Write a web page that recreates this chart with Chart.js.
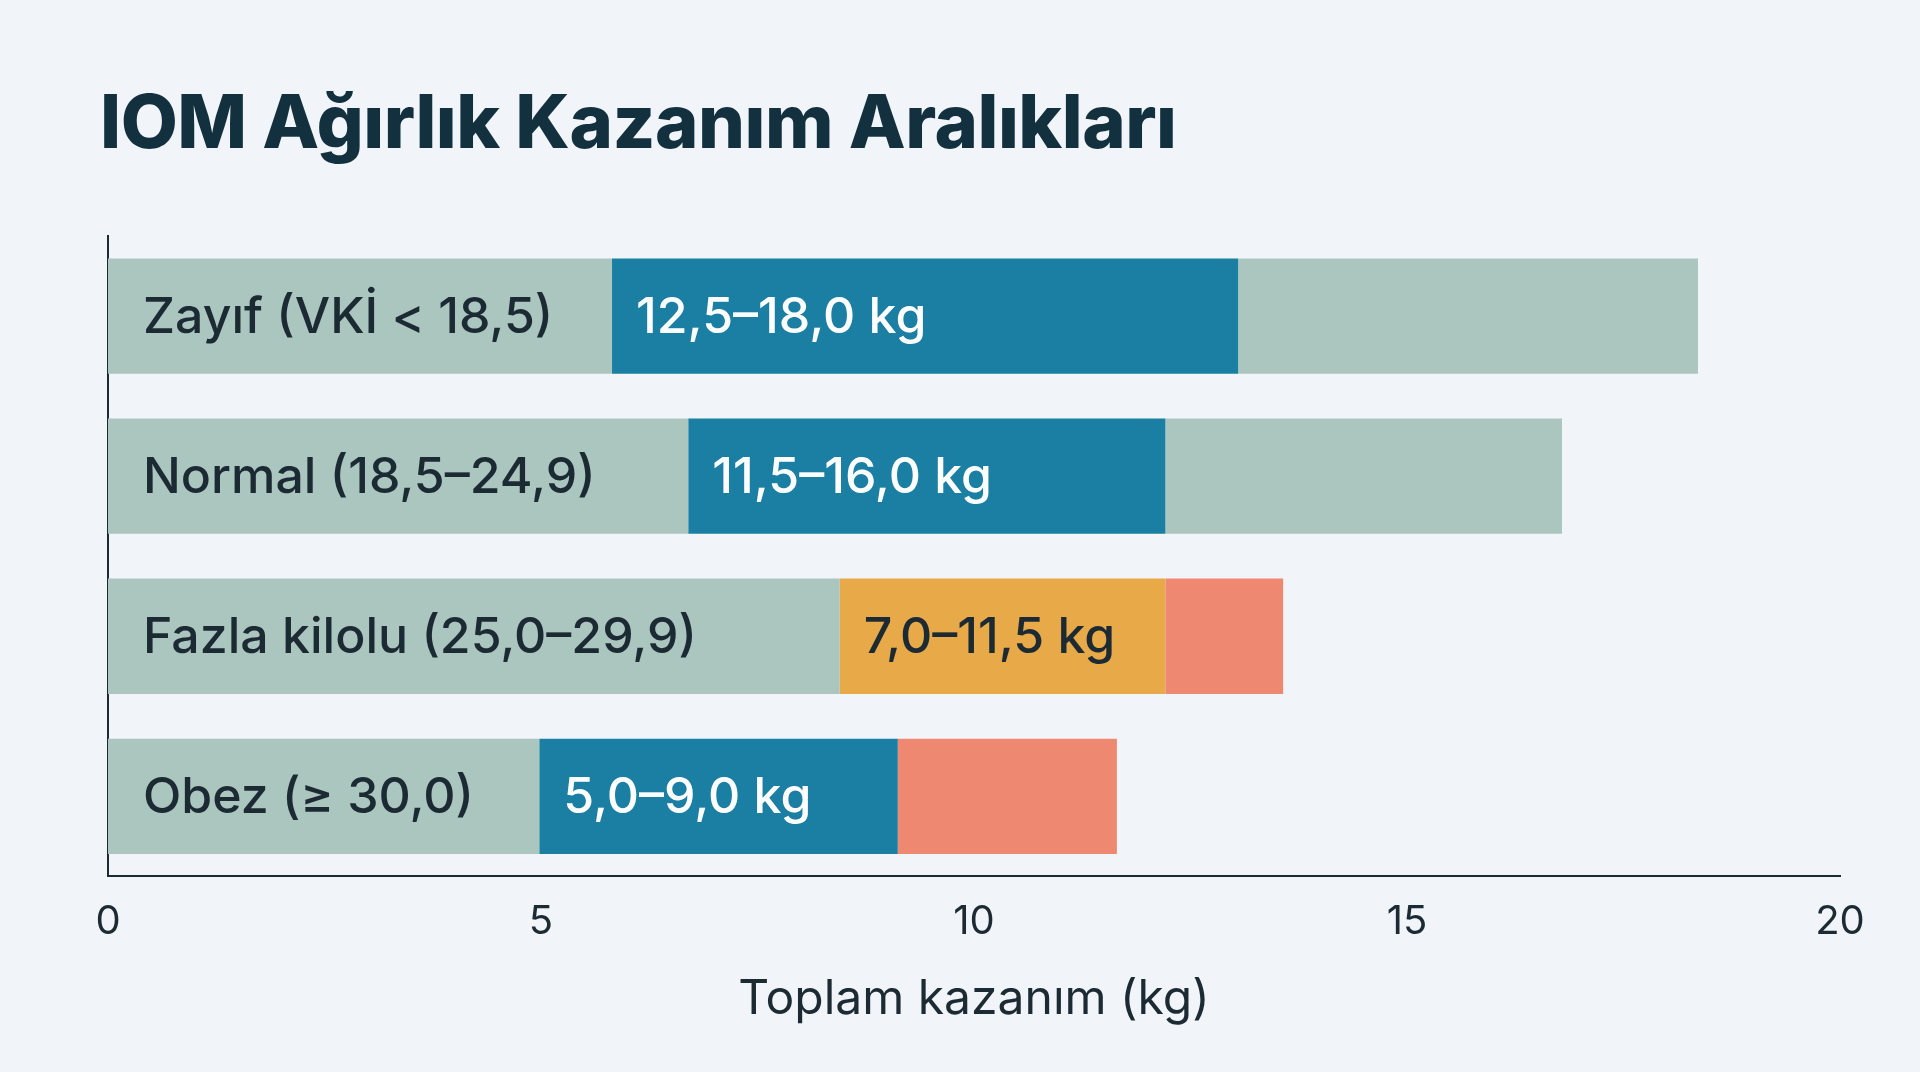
<!DOCTYPE html>
<html><head><meta charset="utf-8">
<script src="https://cdn.jsdelivr.net/npm/chart.js@4"></script>
<style>
html,body{margin:0;padding:0;background:#f1f5f9;width:1920px;height:1072px;overflow:hidden;font-family:Inter,"Noto Sans",sans-serif}
h1{position:absolute;left:100px;top:76px;margin:0;font-size:74px;font-weight:800;color:#13303f;letter-spacing:-0.5px}
#wrap{position:absolute;left:0;top:0;width:1920px;height:1072px}
</style></head><body>
<h1>IOM Ağırlık Kazanım Aralıkları</h1>
<div id="wrap"><canvas id="c" width="1920" height="1072"></canvas></div>
<script>
const categories=["Zayıf (VKİ < 18,5)","Normal (18,5–24,9)","Fazla kilolu (25,0–29,9)","Obez (≥ 30,0)"];
const rangeLabels=["12,5–18,0 kg","11,5–16,0 kg","7,0–11,5 kg","5,0–9,0 kg"];
const baseValues=[5.82,6.70,8.45,4.98];
const rangeValues=[7.23,5.51,3.76,4.14];
const extraValues=[5.31,4.58,1.36,2.53];
const rangeColors=["#1a7fa3","#1a7fa3","#e8a948","#1a7fa3"];
const extraColors=["#abc6be","#abc6be","#ef8870","#ef8870"];
const rangeText=["#ffffff","#ffffff","#1c2a33","#ffffff"];
const xTicks=[0,5,10,15,20];

const labelPlugin={id:'lbl',afterDatasetsDraw(chart){
  const ctx=chart.ctx;ctx.save();
  ctx.font='500 50px Inter, "Noto Sans", sans-serif';ctx.textBaseline='middle';ctx.textAlign='left';
  const m0=chart.getDatasetMeta(0).data,m1=chart.getDatasetMeta(1).data;
  categories.forEach((c,i)=>{
    ctx.fillStyle='#1c2a33';ctx.fillText(c,m0[i].base+35,m0[i].y+2);
    ctx.fillStyle=rangeText[i];ctx.fillText(rangeLabels[i],m1[i].base+24,m1[i].y+2);
  });
  ctx.restore();
}};
new Chart(document.getElementById('c'),{
  type:'bar',
  data:{labels:categories,datasets:[
    {data:baseValues,backgroundColor:"#abc6be"},
    {data:rangeValues,backgroundColor:rangeColors},
    {data:extraValues,backgroundColor:extraColors}
  ]},
  options:{indexAxis:'y',responsive:false,animation:false,devicePixelRatio:1,
    categoryPercentage:0.72,barPercentage:1,
    layout:{padding:{left:100,right:80,top:236,bottom:40}},
    plugins:{legend:{display:false},tooltip:{enabled:false}},
    scales:{
      x:{stacked:true,min:0,max:20,afterBuildTicks(s){s.ticks=xTicks.map(v=>({value:v}));},
        grid:{display:false},border:{display:true,color:'#1c2a33',width:2},
        ticks:{color:'#1c2a33',font:{size:40,family:'Inter'},padding:14},
        title:{display:true,text:'Toplam kazanım (kg)',color:'#1c2a33',font:{size:48,family:'Inter'},padding:{top:10}}},
      y:{stacked:true,grid:{display:false},border:{display:true,color:'#1c2a33',width:2},ticks:{display:false}}
    }},
  plugins:[labelPlugin]
});
</script></body></html>
